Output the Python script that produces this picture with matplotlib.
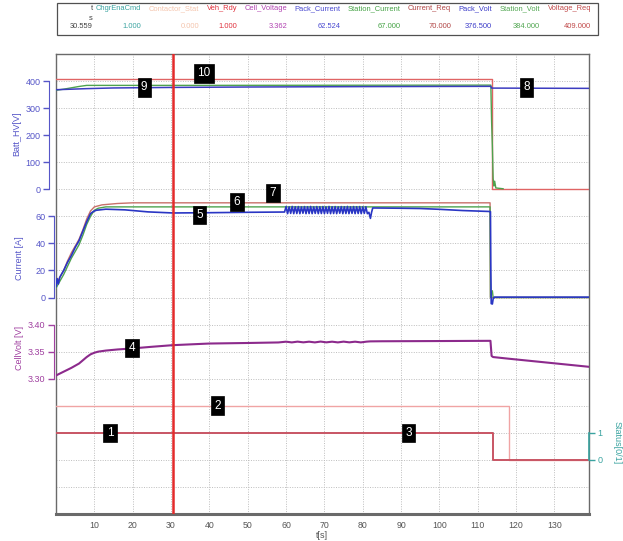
import matplotlib
matplotlib.use("Agg")
import matplotlib.pyplot as plt
from matplotlib.patches import Rectangle

plt.rcParams['font.family'] = ['Liberation Sans', 'DejaVu Sans']

W, H, DPI = 623, 541, 100

# ---------------- cursor readout ----------------
cursor_t = 30.559
header_names = ["ChgrEnaCmd", "Contactor_Stat", "Veh_Rdy", "Cell_Voltage", "Pack_Current",
                "Station_Current", "Current_Req", "Pack_Volt", "Station_Volt", "Voltage_Req"]
header_values = ["1.000", "0.000", "1.000", "3.362", "62.524",
                 "67.000", "70.000", "376.500", "384.000", "409.000"]
header_colors = ["#3aa3a0", "#f4c4ac", "#e0303c", "#b040b0", "#4848d0",
                 "#44a244", "#b04444", "#3a3ac8", "#50a650", "#c04848"]

# ---------------- Batt_HV [V] ----------------
voltage_req_t = [0, 113.6, 113.6, 139]
voltage_req_v = [409, 409, 0, 0]

station_volt_t = [0, 2, 4, 6, 8, 30.5, 113.4, 113.6, 113.8, 114.0, 114.2, 114.4, 114.7, 116.6]
station_volt_v = [366, 370, 375, 380, 384, 384, 385, 250, 160, 40, 12, 30, 5, 2]

pack_volt_t = [0, 4, 8, 15, 30.5, 50, 80, 113.4, 113.6, 139]
pack_volt_v = [368, 370, 372, 374.5, 376.5, 378, 379.5, 380.5, 374, 373]

# ---------------- Current [A] ----------------
current_req_t = [0, 1, 2, 3, 4, 5, 6, 7, 8, 9, 10, 12, 16, 20, 113.2, 113.3, 139]
current_req_v = [10, 15, 20, 27, 33, 38, 43, 50, 58, 64, 67, 68.5, 69.5, 70, 70, 0, 0]

station_current_t = [0, 1, 2, 3, 4, 5, 6, 7, 8, 9, 10, 11, 13, 113.2, 113.3, 113.8, 114.0, 139]
station_current_v = [7, 12, 17, 23, 29, 34, 39, 46, 54, 60, 64.5, 66, 67, 67, 0, 5, 0, 0]

pack_current_t = [0, 0.3, 0.6, 1, 2, 3, 4, 5, 6, 7, 8, 9, 9.7, 10.5, 13, 18, 24, 30.5, 40, 50, 59.6,
                  60.0, 60.4, 60.8, 61.2, 61.6, 62.0, 62.4, 62.8, 63.2, 63.6, 64.0, 64.4, 64.8, 65.2,
                  65.6, 66.0, 66.4, 66.8, 67.2, 67.6, 68.0, 68.4, 68.8, 69.2, 69.6, 70.0, 70.4, 70.8,
                  71.2, 71.6, 72.0, 72.4, 72.8, 73.2, 73.6, 74.0, 74.4, 74.8, 75.2, 75.6, 76.0, 76.4,
                  76.8, 77.2, 77.6, 78.0, 78.4, 78.8, 79.2, 79.6, 80.0, 80.4, 80.8, 81.2,
                  81.6, 82.0, 82.3, 82.6, 90, 95, 100, 106, 113.1, 113.3, 113.4, 113.5, 113.8, 114.0,
                  114.3, 139]
pack_current_v = [8, 14, 10, 15, 20, 26, 31, 37, 42, 49, 56, 62, 63.5, 64.5, 65.3, 64.8, 63.3, 62.5,
                  62.7, 63.0, 63.2,
                  67.2, 62.0, 67.0, 62.2, 67.3, 62.0, 67.1, 62.1, 67.2, 62.0, 67.0, 62.3, 67.2, 62.0,
                  67.1, 62.1, 67.3, 62.0, 67.0, 62.2, 67.2, 62.0, 67.1, 62.1, 67.2, 62.0, 67.0, 62.2,
                  67.3, 62.0, 67.1, 62.1, 67.2, 62.0, 67.0, 62.3, 67.2, 62.0, 67.1, 62.1, 67.3, 62.0,
                  67.0, 62.2, 67.2, 62.0, 67.1, 62.1, 67.2, 62.0, 67.0, 62.2, 67.1, 62.0,
                  63.0, 58.5, 63.0, 66.2, 66.0, 65.8, 65.2, 64.3, 63.6, 63.5, 20, -4.5, -4.8, -1.0,
                  0.3, 0.3]

# ---------------- CellVolt [V] ----------------
cell_volt_t = [0, 2, 4, 6, 7, 8, 9, 10, 11, 13, 16, 20, 25, 30.5, 40, 50, 58,
               60, 61.5, 63, 64.5, 66, 67.5, 69, 70.5, 72, 73.5, 75, 76.5, 78, 79.5, 81, 82,
               85, 100, 113.3, 113.6, 114, 118, 125, 132, 139]
cell_volt_v = [3.306, 3.313, 3.320, 3.328, 3.334, 3.340, 3.345, 3.348, 3.350, 3.352, 3.354, 3.356,
               3.359, 3.362, 3.365, 3.366, 3.367,
               3.3684, 3.3671, 3.3685, 3.3672, 3.3684, 3.3671, 3.3686, 3.3672, 3.3684, 3.3671,
               3.3685, 3.3672, 3.3684, 3.3671, 3.3685, 3.3690,
               3.3692, 3.3696, 3.3700, 3.3420, 3.3400, 3.3370, 3.3320, 3.3270, 3.3220]

# ---------------- Status [0/1] ----------------
veh_rdy_t = [0, 113.9, 113.9, 139]
veh_rdy_v = [1, 1, 0, 0]
chgr_ena_t = [0, 113.9, 113.9, 139]
chgr_ena_v = [1, 1, 0, 0]
contactor_t = [0, 118.2, 118.2, 139]
contactor_v = [2, 2, 0, 0]


def px(x, y):
    return x / W, 1 - y / H


fig = plt.figure(figsize=(W / DPI, H / DPI), dpi=DPI)
renderer = fig.canvas.get_renderer()

# ---- readout table at the top ----
fig.add_artist(Rectangle(px(57, 35), (598 - 57) / W, 32 / H, transform=fig.transFigure,
                         fill=False, ec='#505050', lw=0.9))
hdr_fs = 5.4
fig.text(*px(93, 9), "t", color='#404040', fontsize=hdr_fs, ha='right', va='center')
fig.text(*px(93, 18), "s", color='#404040', fontsize=hdr_fs, ha='right', va='center')
fig.text(*px(93, 27), "30.559", color='#404040', fontsize=hdr_fs, ha='right', va='center')

name_texts = []
widths = []
for name, col in zip(header_names, header_colors):
    t = fig.text(0, 0, name, color=col, fontsize=hdr_fs, ha='left', va='center')
    name_texts.append(t)
    widths.append(t.get_window_extent(renderer).width)
x0, x1 = 96, 591
gap = (x1 - x0 - sum(widths)) / (len(widths) - 1)
x = x0
for t, w, val, col in zip(name_texts, widths, header_values, header_colors):
    t.set_position(px(x, 9))
    fig.text(*px(x + w, 27), val, color=col, fontsize=hdr_fs, ha='right', va='center')
    x += w + gap

# ---- main plot frame ----
L, R, T, B = 56, 589, 54, 514
ax = fig.add_axes([L / W, 1 - B / H, (R - L) / W, (B - T) / H])
ax.set_xlim(0, 139)
ax.set_ylim(0, 17)
ax.set_yticks(range(18))
ax.set_xticks(range(10, 140, 10))
ax.tick_params(axis='x', length=0, labelsize=6.3, labelcolor='#555555', pad=5)
ax.grid(True, color='#bdbdbd', ls=(0, (1, 1.5)), lw=0.7)
for s in ax.spines.values():
    s.set_color('#6a6a6a')
    s.set_linewidth(1.0)
ax.spines['bottom'].set_linewidth(2.2)
fig.text(*px(322, 535), "t[s]", color='#555555', fontsize=6.5, ha='center', va='center')


def make_twin(ylim):
    a = ax.twinx()
    a.set_ylim(*ylim)
    for s in a.spines.values():
        s.set_visible(False)
    a.patch.set_visible(False)
    a.tick_params(axis='y', left=False, right=False, labelleft=False, labelright=False)
    return a


def left_scale(a, ticks, labels, color, offset):
    sp = a.spines['left']
    sp.set_visible(True)
    sp.set_bounds(ticks[0], ticks[-1])
    sp.set_position(('outward', offset))
    sp.set_color(color)
    a.yaxis.set_ticks_position('left')
    a.set_yticks(ticks)
    a.set_yticklabels(labels)
    a.tick_params(axis='y', left=True, labelleft=True, right=False, labelright=False,
                  colors=color, labelsize=6.5, length=4, width=1, pad=2)


hv_col, cur_col, cell_col, st_col = '#5656c8', '#5656c8', '#a040a0', '#3aa3a0'

ax_hv = make_twin((-1200, 500))
left_scale(ax_hv, [0, 100, 200, 300, 400], ["0", "100", "200", "300", "400"], hv_col, 5)
ax_hv.plot(voltage_req_t, voltage_req_v, color='#e06464', lw=1.0)
ax_hv.plot(station_volt_t, station_volt_v, color='#4ea24e', lw=1.0)
ax_hv.plot(pack_volt_t, pack_volt_v, color='#3c3cc0', lw=1.1)

ax_cur = make_twin((-160, 180))
left_scale(ax_cur, [0, 20, 40, 60], ["0", "20", "40", "60"], cur_col, 1.5)
ax_cur.plot(current_req_t, current_req_v, color='#c8706a', lw=1.0)
ax_cur.plot(station_current_t, station_current_v, color='#4ea24e', lw=1.0)
ax_cur.plot(pack_current_t, pack_current_v, color='#2a36c4', lw=1.2)

ax_cell = make_twin((3.05, 3.90))
left_scale(ax_cell, [3.30, 3.35, 3.40], ["3.30", "3.35", "3.40"], cell_col, 1.5)
ax_cell.plot(cell_volt_t, cell_volt_v, color='#8c2a8c', lw=1.5)

ax_st = make_twin((-2, 15))
sp = ax_st.spines['right']
sp.set_visible(True)
sp.set_bounds(0, 1)
sp.set_color(st_col)
sp.set_linewidth(1.2)
ax_st.set_yticks([0, 1])
ax_st.set_yticklabels(["0", "1"])
ax_st.tick_params(axis='y', right=True, labelright=True, colors=st_col, labelsize=6.5,
                  length=4, width=1, pad=2)
ax_st.plot(contactor_t, contactor_v, color='#f0a4a4', lw=1.0)
ax_st.plot(chgr_ena_t, chgr_ena_v, color=st_col, lw=1.2)
ax_st.plot(veh_rdy_t, veh_rdy_v, color='#e0485a', lw=1.2)
ax_st.axvline(cursor_t, color='#e32b2b', lw=1.8)

# the base axes carries only the grid, no y ticks of its own
ax.tick_params(axis='y', left=False, right=False, labelleft=False, labelright=False)

# axis titles
fig.text(*px(17, 134), "Batt_HV[V]", color=hv_col, fontsize=6.5, rotation=90, ha='center', va='center')
fig.text(*px(19, 258), "Current [A]", color=cur_col, fontsize=6.5, rotation=90, ha='center', va='center')
fig.text(*px(19, 348), "CellVolt [V]", color=cell_col, fontsize=6.5, rotation=90, ha='center', va='center')
fig.text(*px(617, 443), "Status[0/1]", color=st_col, fontsize=6.5, rotation=270, ha='center', va='center')

# numbered markers
markers = [
    ("1", ax_st, 14.1, 1), ("2", ax_st, 42.2, 2), ("3", ax_st, 92.0, 1),
    ("4", ax_cell, 19.8, 3.357),
    ("5", ax_cur, 37.5, 61), ("6", ax_cur, 47.2, 70.6), ("7", ax_cur, 56.6, 77.3),
    ("8", ax_hv, 122.8, 377), ("9", ax_hv, 23.0, 377), ("10", ax_hv, 38.6, 428),
]
for s, a, tx, ty in markers:
    a.text(tx, ty, s, color='white', fontsize=8.5, ha='center', va='center', zorder=10,
           bbox=dict(boxstyle='square,pad=0.28', fc='black', ec='black', lw=0.5))

fig.savefig("out.png", dpi=DPI)
